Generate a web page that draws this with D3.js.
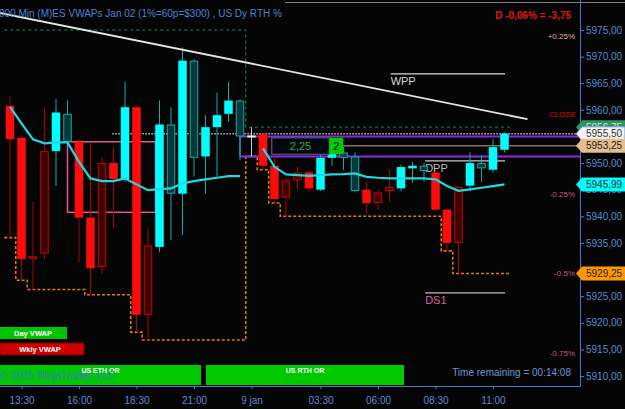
<!DOCTYPE html>
<html lang="en">
<head>
<meta charset="UTF-8">
<script src="https://cdn.jsdelivr.net/npm/d3@7"></script>
<style>
  body { margin: 0; background: #050505; }
  svg { display: block; font-family: "Liberation Sans", Arial, sans-serif; }
</style>
<title>ES VWAPs</title>
</head>
<body>
<div id="chart"></div>
<script>
// 30 min bars, index 0 = 13:00 (jan 8), session break after index 20
var opens  = [5960.75,5954.75,5932.5,5952.25,5952.25,5954,5954,5939.75,5950,5950,5947,5960.5,5934.5,5934.25,5944.25,5944.25,5951,5951.25,5956.75,5959.25,5955,
              5955,5955.5,5949.5,5946.75,5948.25,5948.25,5945,5951,5951,5944.75,5945,5944.5,5945.5,5945.25,5949,5948.5,5948.25,5941.25,5945.5,5945.75,5949,5948.75,5952.5];
var highs  = [5962.5,5955,5942.75,5960.5,5962,5961.75,5954.5,5953.75,5951,5953,5965.25,5960.75,5937.75,5961.75,5960.5,5971.75,5969.5,5959,5963.25,5965.25,5962,
              5956.75,5955.75,5951.25,5947.25,5949.25,5948.5,5951.75,5952.25,5953,5952,5946.5,5945,5948.75,5949.75,5950.25,5950,5948.75,5941.5,5945.75,5952,5951.5,5954.5,5955.75];
var lows   = [5936,5928,5926.25,5932,5945.75,5953.5,5931.25,5925.25,5929.25,5937.75,5946.5,5918.25,5916.75,5933.25,5935.5,5936.5,5947.5,5944.25,5947.5,5957.75,5950.5,
              5951.25,5948.75,5942.5,5940,5945,5944.5,5944.75,5949.5,5948.75,5944.5,5940.5,5941.25,5942.75,5944.75,5946.25,5946.5,5941,5933.5,5929.25,5944.75,5946.5,5948.25,5952];
var closes = [5954.5,5932,5932,5933,5959.5,5959.25,5939.75,5930.25,5930.5,5947,5960.5,5921.5,5921.5,5957.25,5957.25,5969.25,5969.25,5956.75,5959,5961.75,5961.75,
              5955,5949.5,5943.25,5943.5,5946.75,5945.25,5951,5952,5952,5951.25,5942.5,5942.5,5944.75,5949.25,5949.5,5949.5,5941.25,5935,5935,5950,5950,5953,5955.5];
// 1 = solid body, 0 = hollow (dark) body
var solid  = [1,1,0,0,1,0,1,1,0,1,1,1,0,1,0,1,0,1,1,1,0,
              1,1,1,0,0,1,1,1,0,0,1,0,0,1,1,0,1,1,0,1,0,1,1];
// day vwap, resets at new session (index 21)
var vwap   = [5960.58,5957.46,5954.45,5953.7,5953.89,5953.89,5950.24,5947.12,5946.62,5946.62,5947.12,5946.0,5944.92,5945.11,5945.24,5946.18,5946.62,5946.94,5947.24,5947.56,5947.56,
              null,5952.76,5949.3,5947.88,5947.74,5947.61,5947.74,5947.88,5947.93,5948.06,5947.42,5947.24,5947.12,5947.12,5947.12,5947.12,5946.94,5945.68,5944.79,5945.06,5945.36,5945.68,5945.99];

var newSessionIdx = 21;
var ethHighBefore = 5975;   // session high set before first visible bar
var prevClose = 5959.25;
var posPrice = 5953.25, posQty = 2;
var pctLevels = [0.25, -0.25, -0.5, -0.75];
var pctLabels = ["+0.25%", "-0.25%", "-0.5%", "-0.75%"];

var tickIdx = [1, 6, 11, 16, 21, 27, 32, 37, 42];
var tickLabels = ["13:30", "16:00", "18:30", "21:00", "9 jan", "03:30", "06:00", "08:30", "11:00"];
var priceTicks = [5910, 5915, 5920, 5925, 5930, 5935, 5940, 5945, 5950, 5955, 5960, 5965, 5970, 5975];

// drawing objects
var trendPts = [[-1, 5978.25], [45, 5958.25]];
var orBox = {i0: 5, i1: 12.65, hi: 5954, lo: 5940.75};
var rthBox = {i0: 20, hi: 5955, lo: 5951.25};
var pivots = [
  {name: "WPP", p: 5966.75, i0: 33.1, i1: 43.05, line: "#d8d8d8", txt: "#d8d8d8"},
  {name: "DPP", p: 5950.4, i0: 36.1, i1: 43.05, line: "#c8c8c8", txt: "#bdbdbd"},
  {name: "DS1", p: 5925.6, i0: 36.1, i1: 43.05, line: "#bdbdbd", txt: "#e0609c"}
];

var W = 625, H = 409, plotR = 580, plotB = 386;
var fmt = function(v) { return v.toFixed(2).replace(".", ","); };

var x = d3.scaleLinear().domain([0, 43]).range([10, 504.5]);
var y = d3.scaleLinear().domain([5910, 5975]).range([376, 30]);
var bw = 8.5;

var svg = d3.select("#chart").append("svg").attr("width", W).attr("height", H);
svg.append("rect").attr("width", W).attr("height", H).attr("fill", "#050505");
svg.append("clipPath").attr("id", "plot").append("rect").attr("width", plotR).attr("height", plotB);

var g = svg.append("g").attr("clip-path", "url(#plot)");

// top frame line
svg.append("line").attr("x1", 285).attr("x2", W).attr("y1", 2.5).attr("y2", 2.5).attr("stroke", "#808080");

// opening range box
g.append("rect")
  .attr("x", x(orBox.i0)).attr("y", y(orBox.hi))
  .attr("width", x(orBox.i1) - x(orBox.i0)).attr("height", y(orBox.lo) - y(orBox.hi))
  .attr("fill", "none").attr("stroke", "#e0588e").attr("stroke-width", 1.5);

// running session high / low stairs
var hiStep = [], loStep = [];
var runHi = ethHighBefore, runLo = Infinity;
opens.forEach(function(o, i) {
  if (i === newSessionIdx) { runHi = -Infinity; runLo = Infinity; }
  runHi = Math.max(runHi, highs[i]);
  runLo = Math.min(runLo, lows[i]);
  hiStep.push([i - 0.5, runHi]);
  loStep.push([i - 0.5, runLo]);
});
hiStep.push([opens.length - 0.5, runHi]);
loStep.push([opens.length - 0.5, runLo]);
var sessHigh = runHi, sessLow = runLo;

var stepLine = d3.line().x(d => x(d[0])).y(d => y(d[1])).curve(d3.curveStepAfter);
g.append("path").attr("d", stepLine(hiStep)).attr("fill", "none")
  .attr("stroke", "#1c8a55").attr("stroke-width", 1).attr("stroke-dasharray", "3,3");
g.append("path").attr("d", stepLine(loStep)).attr("fill", "none")
  .attr("stroke", "#e07c00").attr("stroke-width", 1.6).attr("stroke-dasharray", "3,2");

// rth range box
g.append("line").attr("x1", x(rthBox.i0)).attr("x2", x(rthBox.i0))
  .attr("y1", y(rthBox.hi)).attr("y2", y(rthBox.lo)).attr("stroke", "#5060f0").attr("stroke-width", 1.5);
g.selectAll(".rth").data([rthBox.hi, rthBox.lo]).join("line")
  .attr("x1", x(rthBox.i0)).attr("x2", plotR)
  .attr("y1", d => y(d)).attr("y2", d => y(d))
  .attr("stroke", "#8a2be2").attr("stroke-width", 2);

// position line
g.append("line").attr("x1", x(22.76)).attr("x2", plotR)
  .attr("y1", y(posPrice)).attr("y2", y(posPrice)).attr("stroke", "#8b7355").attr("stroke-width", 1.5);

// last price dotted line
var last = closes[closes.length - 1];
g.append("line").attr("x1", x(8.9)).attr("x2", plotR)
  .attr("y1", y(last)).attr("y2", y(last))
  .attr("stroke", "#c0c0c0").attr("stroke-width", 1.5).attr("stroke-dasharray", "1.5,1.5");

// pivots
pivots.forEach(function(p) {
  g.append("line").attr("x1", x(p.i0)).attr("x2", x(p.i1))
    .attr("y1", y(p.p)).attr("y2", y(p.p)).attr("stroke", p.line).attr("stroke-width", 1.2);
  g.append("text").attr("x", x(p.i0)).attr("y", y(p.p) + 11)
    .attr("fill", p.txt).attr("font-size", "11px").text(p.name);
});

// candles
var bars = opens.map((o, i) => ({i: i, o: o, h: highs[i], l: lows[i], c: closes[i], s: solid[i]}));
function wickCol(d) {
  if (d.c === d.o) return "#c8c8c8";
  return d.c > d.o ? "#17a8a8" : "#b00000";
}
function bodyFill(d) {
  if (d.c === d.o) return "#eeeeee";
  if (d.c > d.o) return d.s ? "#00ffff" : "#053838";
  return d.s ? "#ff0b0b" : "#3c0303";
}
function bodyStroke(d) {
  if (d.s) return "none";
  return d.c > d.o ? "#1fa6a6" : "#d00000";
}
g.append("g").selectAll("line").data(bars).join("line")
  .attr("x1", d => x(d.i)).attr("x2", d => x(d.i))
  .attr("y1", d => y(d.h)).attr("y2", d => y(d.l))
  .attr("stroke", wickCol).attr("stroke-width", 1);
g.append("g").selectAll("rect").data(bars).join("rect")
  .attr("x", d => x(d.i) - bw / 2 + (d.s ? 0 : 0.5))
  .attr("y", d => d.c === d.o ? y(d.c) - 1 : y(Math.max(d.o, d.c)) + (d.s ? 0 : 0.5))
  .attr("width", d => bw - (d.s ? 0 : 1))
  .attr("height", d => d.c === d.o ? 2 : Math.max(1, Math.abs(y(d.o) - y(d.c)) - (d.s ? 0 : 1)))
  .attr("fill", bodyFill).attr("stroke", bodyStroke).attr("stroke-width", 1);

// day vwap
var vline = d3.line().defined(d => d != null).x((d, i) => x(i)).y(d => y(d));
g.append("path").attr("d", vline(vwap)).attr("fill", "none")
  .attr("stroke", "#22d8e0").attr("stroke-width", 2.2);

// trend line
g.append("line")
  .attr("x1", x(trendPts[0][0])).attr("y1", y(trendPts[0][1]))
  .attr("x2", x(trendPts[1][0])).attr("y2", y(trendPts[1][1]))
  .attr("stroke", "#e4e4e4").attr("stroke-width", 1.8);

// chart trader position box
var boxTop = y(posPrice) - 8, boxH = 16.5;
g.append("rect").attr("x", x(22.76)).attr("y", boxTop).attr("width", x(27.77) - x(22.76)).attr("height", boxH)
  .attr("fill", "#03060e").attr("stroke", "#4a5f8c").attr("stroke-width", 1.2);
g.append("text").attr("x", (x(22.76) + x(27.77)) / 2).attr("y", y(posPrice) + 4)
  .attr("text-anchor", "middle").attr("fill", "#35b035").attr("font-size", "11px")
  .text(fmt(last - posPrice).replace(/0$/, ""));
g.append("rect").attr("x", x(27.77)).attr("y", boxTop).attr("width", x(28.98) - x(27.77)).attr("height", boxH)
  .attr("fill", "#00cc00");
g.append("text").attr("x", (x(27.77) + x(28.98)) / 2).attr("y", y(posPrice) + 4)
  .attr("text-anchor", "middle").attr("fill", "#111").attr("font-size", "11px").text(posQty);

// percent levels and close
g.selectAll(".pct").data(pctLevels).join("text")
  .attr("x", 575).attr("y", d => y(prevClose * (1 + d / 100)) + 4)
  .attr("text-anchor", "end").attr("font-size", "8px")
  .attr("fill", d => d > 0 ? "#e0aaa2" : "#c8587a")
  .text((d, i) => pctLabels[i]);
g.append("text").attr("x", 576).attr("y", y(prevClose) + 3.5)
  .attr("text-anchor", "end").attr("font-size", "8px").attr("fill", "#e00000").text("CLOSE");

// header texts
svg.append("text").attr("x", -1).attr("y", 16.5).attr("fill", "#4f80d2").attr("font-size", "10px")
  .text("000 Min (M)ES VWAPs Jan 02 (1%=60p=$300) , US Dy RTH %");
var diff = last - prevClose;
svg.append("text").attr("x", 571).attr("y", 18.5).attr("text-anchor", "end")
  .attr("fill", "#e41414").attr("font-size", "10px").attr("font-weight", "bold")
  .text("D " + fmt(diff / prevClose * 100) + "% = " + fmt(diff));

// legend boxes
svg.append("rect").attr("x", 0).attr("y", 327).attr("width", 67).attr("height", 12).attr("fill", "#00c400");
svg.append("text").attr("x", 33).attr("y", 335.5).attr("text-anchor", "middle").attr("fill", "#fff")
  .attr("font-size", "7.5px").attr("font-weight", "bold").text("Day VWAP");
svg.append("rect").attr("x", 0).attr("y", 343).attr("width", 84).attr("height", 12).attr("fill", "#cc0000")
  .attr("stroke", "#7a0000");
svg.append("text").attr("x", 40).attr("y", 351.5).attr("text-anchor", "middle").attr("fill", "#fff")
  .attr("font-size", "7.5px").attr("font-weight", "bold").text("Wkly VWAP");

var orBars = [{x: 0, w: 201, t: "US ETH OR"}, {x: 206, w: 198, t: "US RTH OR"}];
svg.selectAll(".orb").data(orBars).join("rect")
  .attr("x", d => d.x).attr("y", 365).attr("width", d => d.w).attr("height", 20).attr("fill", "#00c800");
svg.selectAll(".orl").data(orBars).join("text")
  .attr("x", d => d.x + d.w / 2).attr("y", 373).attr("text-anchor", "middle")
  .attr("fill", "#fff").attr("font-size", "7px").attr("font-weight", "bold").text(d => d.t);
svg.append("text").attr("x", 0).attr("y", 379).attr("fill", "#3a74cc")
  .attr("font-size", "10.5px").text("\u00a9 2025 NinjaTrader, LLC");
svg.append("text").attr("x", 571).attr("y", 375.5).attr("text-anchor", "end")
  .attr("fill", "#6a96d8").attr("font-size", "10px").text("Time remaining = 00:14:08");

// price flags on right axis (values from the data)
var flags = [
  {v: sessHigh, bg: "#2e9560", fg: "#cfe8da"},
  {v: last, bg: "#f4f4f4", fg: "#333", st: "#7090d0"},
  {v: posPrice, bg: "#e6bd8e", fg: "#222"},
  {v: vwap[vwap.length - 1], bg: "#00ffff", fg: "#063030"},
  {v: sessLow, bg: "#ff9800", fg: "#222"}
];
// axis labels hidden under a flag are not drawn
function covered(t) { return flags.some(f => Math.abs(y(f.v) - y(t)) < 4.5); }

// axes
var axCol = "#4a7cc8", txtCol = "#5a8ad4";
svg.append("g").attr("transform", `translate(${plotR},0)`)
  .call(d3.axisRight(y).tickValues(priceTicks).tickFormat(d => covered(d) ? "" : fmt(d)).tickSize(4).tickPadding(2))
  .call(a => a.select(".domain").remove())
  .call(a => a.selectAll("line").attr("stroke", axCol))
  .call(a => a.selectAll("text").attr("fill", txtCol).attr("font-size", "10px").attr("font-family", "Liberation Sans, Arial"));
svg.append("g").attr("transform", `translate(0,${plotB})`)
  .call(d3.axisBottom(x).tickValues(tickIdx).tickFormat((d, i) => tickLabels[i]).tickSize(3).tickPadding(8))
  .call(a => a.select(".domain").remove())
  .call(a => a.selectAll("line").attr("stroke", axCol))
  .call(a => a.selectAll("text").attr("fill", txtCol).attr("font-size", "10px").attr("font-family", "Liberation Sans, Arial"));
svg.append("line").attr("x1", plotR + 0.5).attr("x2", plotR + 0.5).attr("y1", 0).attr("y2", plotB + 0.5).attr("stroke", axCol);
svg.append("line").attr("x1", 0).attr("x2", plotR + 0.5).attr("y1", plotB + 0.5).attr("y2", plotB + 0.5).attr("stroke", axCol);

var fl = svg.append("g").selectAll("g").data(flags).join("g")
  .attr("transform", d => `translate(0,${y(d.v)})`);
fl.append("path")
  .attr("d", "M576,0 L582,-7 L625,-7 L625,7 L582,7 Z")
  .attr("fill", d => d.bg).attr("stroke", d => d.st || "none");
fl.append("text").attr("x", 586).attr("y", 3.6).attr("fill", d => d.fg)
  .attr("font-size", "10px").text(d => fmt(d.v));
</script>
</body>
</html>
